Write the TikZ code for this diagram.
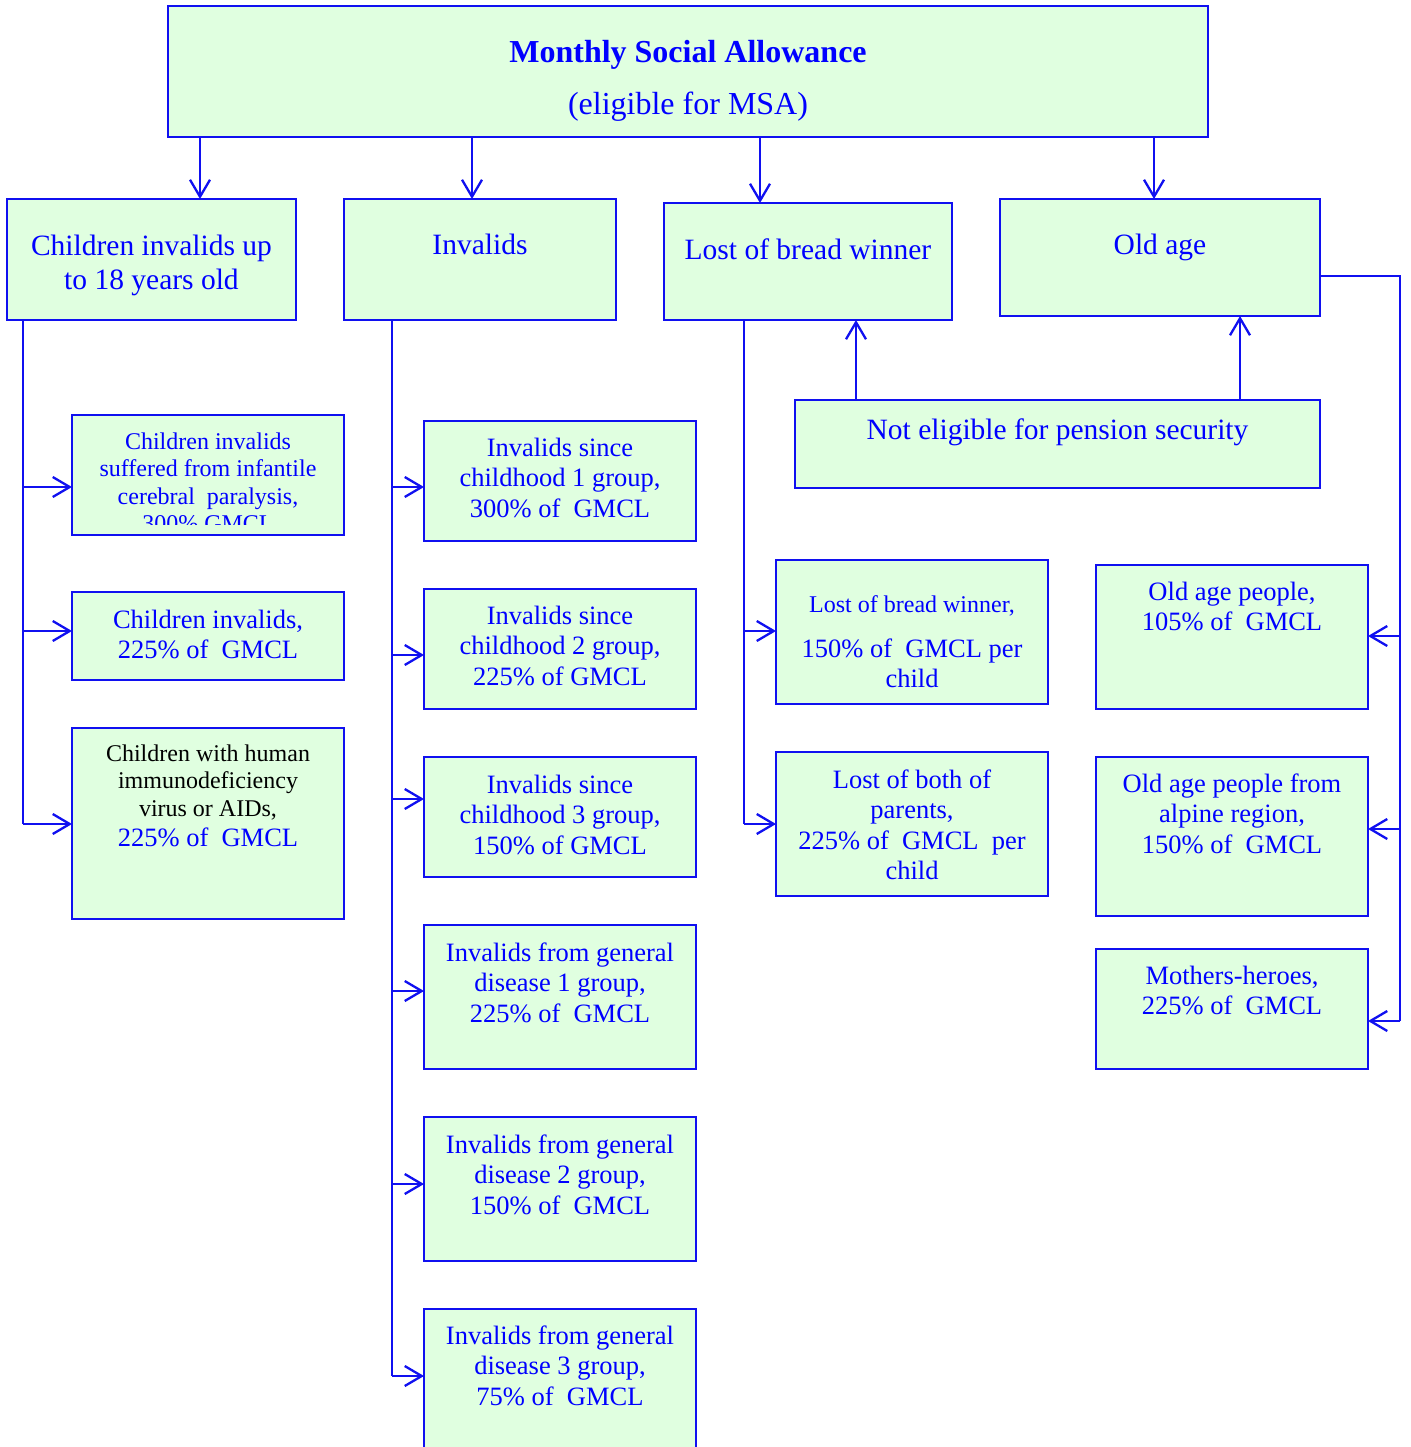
\documentclass[tikz,border=0pt]{standalone}
\usepackage{fontspec}
\setmainfont{Liberation Serif}
\usetikzlibrary{arrows.meta}
\definecolor{lineblue}{RGB}{16,16,240}
\definecolor{textblue}{RGB}{0,0,255}
\definecolor{boxgreen}{RGB}{224,255,224}
\newcommand\mybox[5]{\node[box, minimum width={#4-#2}, minimum height={#5-#3}] (#1) at ({(#2+#4)/2},{(#3+#5)/2}) {};}
\newcommand\mytext[5]{\node[txt,#2] (#1) at (#3,#4) {\strut #5};}
\tikzset{
  box/.style={draw=lineblue, fill=boxgreen, line width=2.3pt, inner sep=0pt, outer sep=0pt},
  ln/.style={draw=lineblue, line width=2.3pt},
  arr/.style={ln, -{Straight Barb[length=17pt,width=20pt]}},
  txt/.style={anchor=north, inner sep=0pt, outer sep=0pt, align=center, text=textblue},
  fA/.style={font=\fontsize{29.5}{34}\selectfont, yshift=23.8pt},
  fB/.style={font=\fontsize{26.5}{30.5}\selectfont, yshift=21.35pt},
  fC/.style={font=\fontsize{24}{27.5}\selectfont, yshift=19.25pt},
}
\begin{document}
\begin{tikzpicture}[x=1pt,y=-1pt]
\clip (0,0) rectangle (1410,1447);
\fill[white] (0,0) rectangle (1410,1447);

% boxes
\mybox{T}{168}{6}{1208}{137}
\mybox{A}{7}{199}{296}{320}
\mybox{B}{344}{199}{616}{320}
\mybox{C}{664}{203}{952}{320}
\mybox{D}{1000}{199}{1320}{316}
\mybox{NE}{795}{400}{1320}{488}
\mybox{A1}{72}{415}{344}{535}
\mybox{A2}{72}{592}{344}{680}
\mybox{A3}{72}{728}{344}{919}
\mybox{B1}{424}{421}{696}{541}
\mybox{B2}{424}{589}{696}{709}
\mybox{B3}{424}{757}{696}{877}
\mybox{B4}{424}{925}{696}{1069}
\mybox{B5}{424}{1117}{696}{1261}
\mybox{B6}{424}{1309}{696}{1470}
\mybox{C1}{776}{560}{1048}{704}
\mybox{C2}{776}{752}{1048}{896}
\mybox{D1}{1096}{565}{1368}{709}
\mybox{D2}{1096}{757}{1368}{916}
\mybox{D3}{1096}{949}{1368}{1069}

% texts
\node[anchor=base, inner sep=0pt, text=textblue, font=\fontsize{32}{36}\selectfont\bfseries] (tT1) at (688,63) {Monthly Social Allowance};
\node[anchor=base, inner sep=0pt, text=textblue, font=\fontsize{32}{36}\selectfont] (tT2) at (688,115) {(eligible for MSA)};
\mytext{tA}{fA}{151.5}{255}{Children invalids up\\to 18 years old}
\mytext{tB}{fA}{480}{255}{Invalids}
\mytext{tC}{fA}{808}{259}{Lost of bread winner}
\mytext{tD}{fA}{1160}{255}{Old age}
\mytext{tNE}{fA}{1057.5}{439}{Not eligible for pension security}
\begin{scope}
\clip (72,415) rectangle (344,524);
\mytext{tA1}{fC}{208}{449}{Children invalids\\suffered from infantile\\cerebral~ paralysis,\\300\% GMCL}
\end{scope}
\mytext{tA2}{fB}{208}{628}{Children invalids,\\225\% of~~GMCL}
\node[txt, font=\fontsize{24}{27.5}\selectfont, yshift=19.25pt, text=black] (tA3a) at (208,761) {\strut Children with human\\immunodeficiency\\virus or AIDs,};
\mytext{tA3b}{fB}{208}{846}{225\% of~~GMCL}
\mytext{tB1}{fB}{560}{456}{Invalids since\\childhood 1 group,\\300\% of~~GMCL}
\mytext{tB2}{fB}{560}{624}{Invalids since\\childhood 2 group,\\225\% of GMCL}
\mytext{tB3}{fB}{560}{793}{Invalids since\\childhood 3 group,\\150\% of GMCL}
\mytext{tB4}{fB}{560}{961}{Invalids from general\\disease 1 group,\\225\% of~~GMCL}
\mytext{tB5}{fB}{560}{1153}{Invalids from general\\disease 2 group,\\150\% of~~GMCL}
\mytext{tB6}{fB}{560}{1344}{Invalids from general\\disease 3 group,\\75\% of~~GMCL}
\mytext{tC1a}{fC}{912}{612}{Lost of bread winner,}
\mytext{tC1b}{fB}{912}{657}{150\% of~~GMCL per\\child}
\mytext{tC2}{fB}{912}{788}{Lost of both of\\parents,\\225\% of~~GMCL~~per\\child}
\mytext{tD1}{fB}{1232}{600}{Old age people,\\105\% of~~GMCL}
\mytext{tD2}{fB}{1232}{792}{Old age people from\\alpine region,\\150\% of~~GMCL}
\mytext{tD3}{fB}{1232}{984}{Mothers-heroes,\\225\% of~~GMCL}

% top arrows
\draw[arr] (T.south -| 200,0) -- (A.north -| 200,0);
\draw[arr] (T.south -| 472,0) -- (B.north -| 472,0);
\draw[arr] (T.south -| 760,0) -- (C.north -| 760,0);
\draw[arr] (T.south -| 1154,0) -- (D.north -| 1154,0);
% up arrows from NE
\draw[arr] (NE.north -| 856,0) -- (C.south -| 856,0);
\draw[arr] (NE.north -| 1240,0) -- (D.south -| 1240,0);

% trunks
\coordinate (xA) at (23,0);
\coordinate (xB) at (392,0);
\coordinate (xC) at (744,0);
\coordinate (xD) at (1400,0);
\draw[ln] (A.south -| xA) -- (xA |- 0,824);
\draw[ln] (B.south -| xB) -- (xB |- 0,1376);
\draw[ln] (C.south -| xC) -- (xC |- 0,824);
\draw[ln] (D.east |- 0,276) -| (xD |- 0,1021);

\foreach \n/\yy in {A1/487, A2/631, A3/824}
  \draw[arr] (xA |- 0,\yy) -- (\n.west |- 0,\yy);
\foreach \n/\yy in {B1/487, B2/655, B3/799, B4/991, B5/1184, B6/1376}
  \draw[arr] (xB |- 0,\yy) -- (\n.west |- 0,\yy);
\foreach \n/\yy in {C1/631, C2/824}
  \draw[arr] (xC |- 0,\yy) -- (\n.west |- 0,\yy);
\foreach \n/\yy in {D1/636, D2/829, D3/1021}
  \draw[arr] (xD |- 0,\yy) -- (\n.east |- 0,\yy);
\end{tikzpicture}
\end{document}
